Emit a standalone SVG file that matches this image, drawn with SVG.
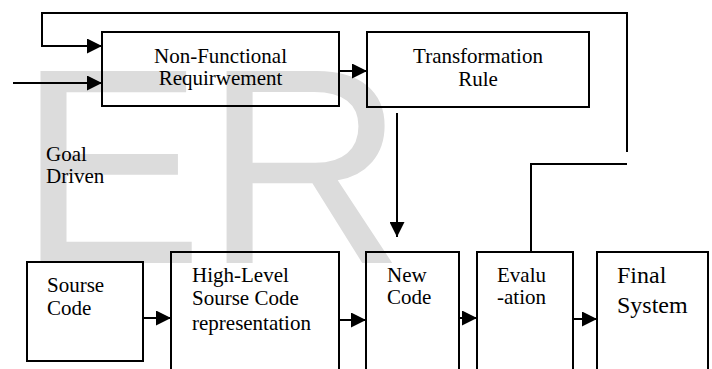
<svg xmlns="http://www.w3.org/2000/svg" width="712" height="369" viewBox="0 0 712 369">
  <defs>
    <marker id="arrow" markerUnits="userSpaceOnUse" markerWidth="15" markerHeight="15" refX="15" refY="7.5" orient="auto">
      <path d="M0,0 L15,7.5 L0,15 Z" fill="#000"/>
    </marker>
  </defs>
  <style>
    .box { fill: none; stroke: #000; stroke-width: 2; }
    .lbl { font-family: 'Liberation Serif', 'Times New Roman', 'DejaVu Serif', serif; font-size: 21px; fill: #000; }
    .big { font-size: 24px; }
    .mid { text-anchor: middle; }
    .wire { fill: none; stroke: #000; stroke-width: 2; }
    .wm { font-family: 'Liberation Sans', Arial, sans-serif; font-size: 279px; fill: #dcdcdc; }
  </style>

  <rect width="712" height="369" fill="#fff"/>

  <!-- background watermark -->
  <g id="watermark">
    <text class="wm" x="17.6" y="263">ER</text>
  </g>

  <g id="connectors">
    <!-- feedback loop from Evaluation back to Non-Functional Requirement -->
    <polyline class="wire" points="531,252 531,164 627,164"/>
    <polyline class="wire" points="627,152 627,13 42,13 42,46 102,46" marker-end="url(#arrow)"/>
    <!-- external input -->
    <line class="wire" x1="13" y1="83" x2="102" y2="83" marker-end="url(#arrow)"/>
    <!-- NFR to Transformation Rule -->
    <line class="wire" x1="339" y1="71" x2="367" y2="71" marker-end="url(#arrow)"/>
    <!-- Transformation Rule down to New Code -->
    <line class="wire" x1="397" y1="113" x2="397" y2="237" marker-end="url(#arrow)"/>
    <!-- bottom pipeline -->
    <line class="wire" x1="143" y1="318" x2="171" y2="318" marker-end="url(#arrow)"/>
    <line class="wire" x1="339" y1="320" x2="366" y2="320" marker-end="url(#arrow)"/>
    <line class="wire" x1="459" y1="318" x2="477" y2="318" marker-end="url(#arrow)"/>
    <line class="wire" x1="573" y1="319" x2="597" y2="319" marker-end="url(#arrow)"/>
  </g>

  <g font-family="'Liberation Serif', 'Times New Roman', serif">
    <g id="nfr">
      <rect class="box" x="102" y="32" width="237" height="74"/>
      <text class="lbl mid" x="220.5" y="63">Non-Functional</text>
      <text class="lbl mid" x="220.5" y="85">Requirwement</text>
    </g>

    <g id="transformation-rule">
      <rect class="box" x="367" y="32" width="222" height="75"/>
      <text class="lbl mid" x="478" y="63">Transformation</text>
      <text class="lbl mid" x="478" y="86">Rule</text>
    </g>

    <g id="goal-driven">
      <text class="lbl" x="46" y="161">Goal</text>
      <text class="lbl" x="46" y="183">Driven</text>
    </g>

    <g id="source-code">
      <rect class="box" x="27" y="262" width="116" height="99"/>
      <text class="lbl" x="47" y="292">Sourse</text>
      <text class="lbl" x="47" y="315">Code</text>
    </g>

    <g id="high-level">
      <rect class="box" x="171" y="252" width="168" height="140"/>
      <text class="lbl" x="192" y="282">High-Level</text>
      <text class="lbl" x="192" y="305">Sourse Code</text>
      <text class="lbl" x="192" y="330">representation</text>
    </g>

    <g id="new-code">
      <rect class="box" x="366" y="252" width="93" height="140"/>
      <text class="lbl" x="387" y="282">New</text>
      <text class="lbl" x="387" y="304">Code</text>
    </g>

    <g id="evaluation">
      <rect class="box" x="477" y="252" width="96" height="140"/>
      <text class="lbl" x="497" y="282">Evalu</text>
      <text class="lbl" x="497" y="304">-ation</text>
    </g>

    <g id="final-system">
      <rect class="box" x="597" y="252" width="111" height="140"/>
      <text class="lbl big" x="617" y="283">Final</text>
      <text class="lbl big" x="617" y="313">System</text>
    </g>
  </g>
</svg>
